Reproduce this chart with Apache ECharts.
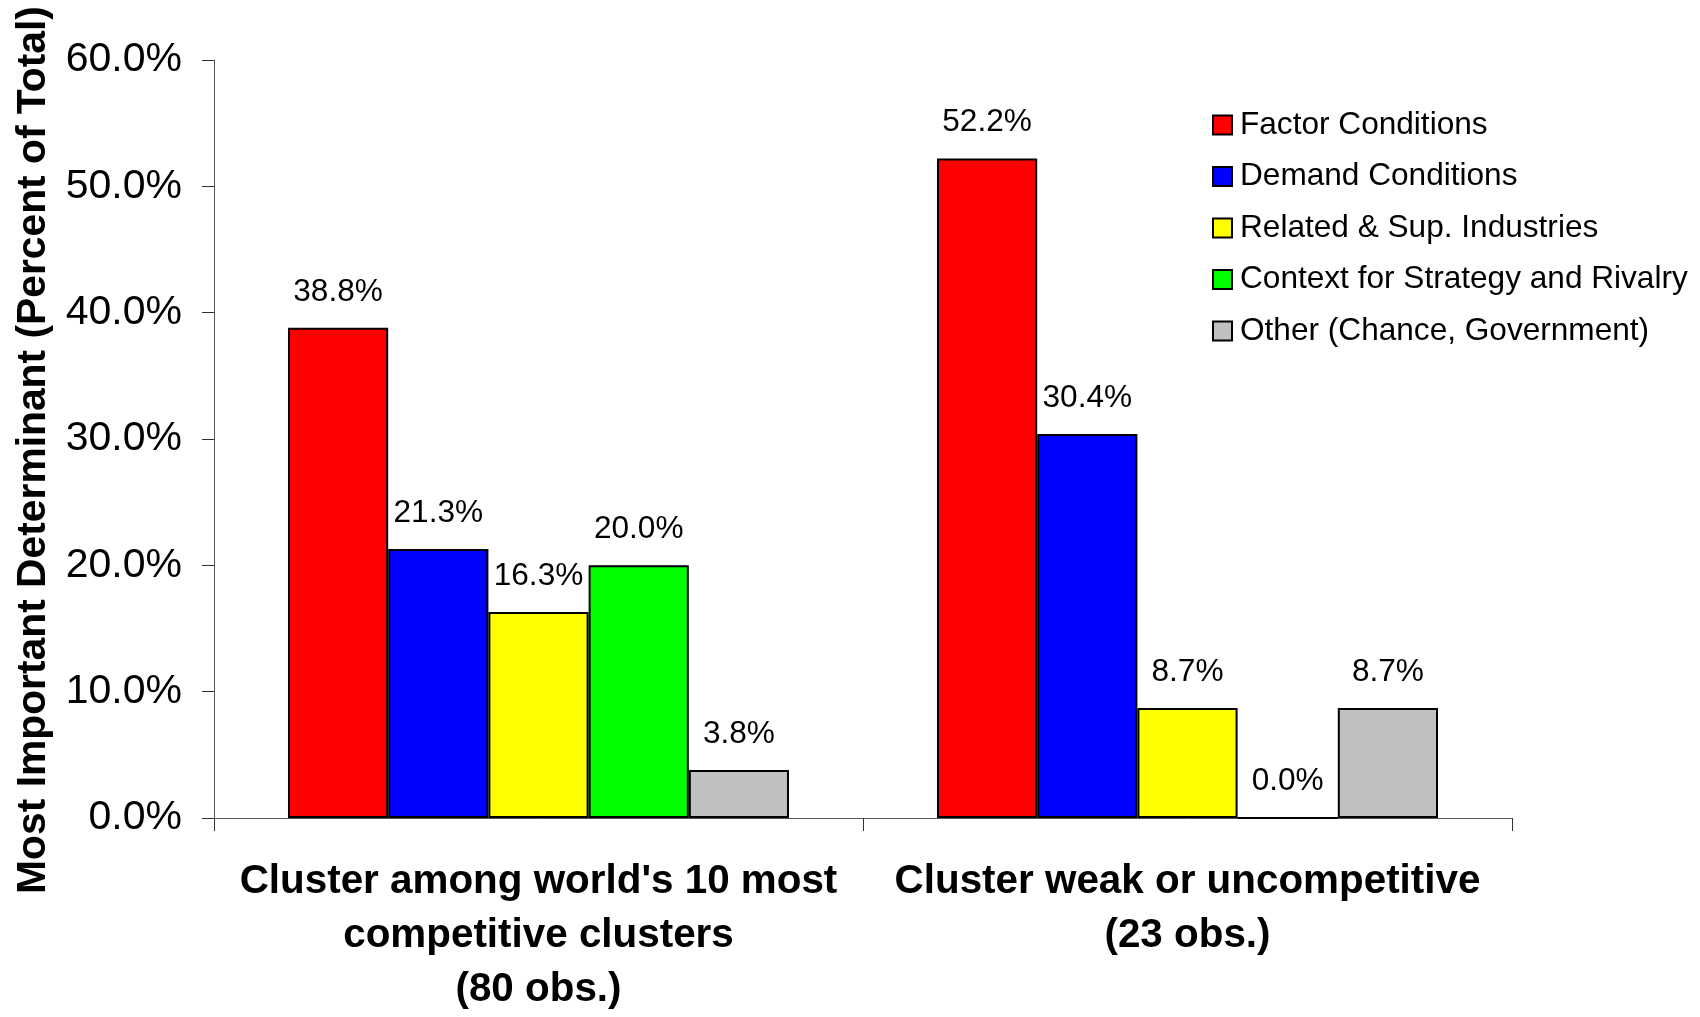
<!DOCTYPE html>
<html>
<head>
<meta charset="utf-8">
<script src="https://cdn.jsdelivr.net/npm/echarts@6/dist/echarts.min.js"></script>
<style>
html,body{margin:0;padding:0;background:#fff;}
#chart{width:1700px;height:1017px;}
</style>
</head>
<body>
<div id="chart"></div>
<script>
const categories = ["Cluster among world's 10 most\ncompetitive clusters\n(80 obs.)", "Cluster weak or uncompetitive\n(23 obs.)"];
const seriesNames = ["Factor Conditions", "Demand Conditions", "Related & Sup. Industries", "Context for Strategy and Rivalry", "Other (Chance, Government)"];
const factorConditions = [38.8, 52.2];
const demandConditions = [21.3, 30.4];
const relatedIndustries = [16.3, 8.7];
const contextStrategy = [20.0, 0.0];
const otherChance = [3.8, 8.7];
const seriesColors = ["#FF0000", "#0000FF", "#FFFF00", "#00FF00", "#C0C0C0"];
const yTicks = [0, 10, 20, 30, 40, 50, 60];

const FONT = "'Liberation Sans', Arial, sans-serif";
const allValues = [factorConditions, demandConditions, relatedIndustries, contextStrategy, otherChance];

const chart = echarts.init(document.getElementById('chart'), null, {renderer: 'canvas'});
const option = {
  backgroundColor: '#ffffff',
  animation: false,
  textStyle: {fontFamily: FONT, color: '#000'},
  grid: {left: 214, right: 188, top: 60, bottom: 195, containLabel: false},
  legend: {
    orient: 'vertical',
    left: 1207,
    top: 104,
    icon: 'rect',
    itemWidth: 19,
    itemHeight: 19,
    itemGap: 19.5,
    textStyle: {fontFamily: FONT, fontSize: 31.6, color: '#000', lineHeight: 31.6, padding: [0, 0, 0, 3]},
    data: seriesNames
  },
  xAxis: {
    type: 'category',
    data: categories,
    axisLine: {lineStyle: {color: '#555', width: 1}},
    axisTick: {show: true, length: 13, lineStyle: {color: '#333'}},
    axisLabel: {
      fontFamily: FONT, fontSize: 40.4, fontWeight: 'bold', color: '#000',
      lineHeight: 54, margin: 37, interval: 0
    }
  },
  yAxis: {
    type: 'value',
    min: yTicks[0],
    max: yTicks[yTicks.length - 1],
    interval: 10,
    name: 'Most Important Determinant (Percent of Total)',
    nameLocation: 'middle',
    nameGap: 160,
    nameTextStyle: {fontFamily: FONT, fontSize: 40.8, fontWeight: 'bold', color: '#000', padding: [0, 22, 0, 0]},
    axisLine: {show: true, lineStyle: {color: '#555', width: 1}},
    axisTick: {show: true, length: 12, lineStyle: {color: '#333'}},
    splitLine: {show: false},
    axisLabel: {
      fontFamily: FONT, fontSize: 41, color: '#000', margin: 32,
      formatter: v => v.toFixed(1) + '%'
    }
  },
  series: seriesNames.map((name, i) => ({
    name: name,
    type: 'bar',
    data: allValues[i],
    barGap: '0%',
    barCategoryGap: '22.8%',
    itemStyle: {color: seriesColors[i], borderColor: '#000', borderWidth: 2},
    label: {
      show: true,
      position: 'top',
      distance: 20,
      fontFamily: FONT,
      fontSize: 31.6,
      color: '#000',
      formatter: p => p.value.toFixed(1) + '%'
    }
  }))
};
chart.setOption(option);
</script>
</body>
</html>
